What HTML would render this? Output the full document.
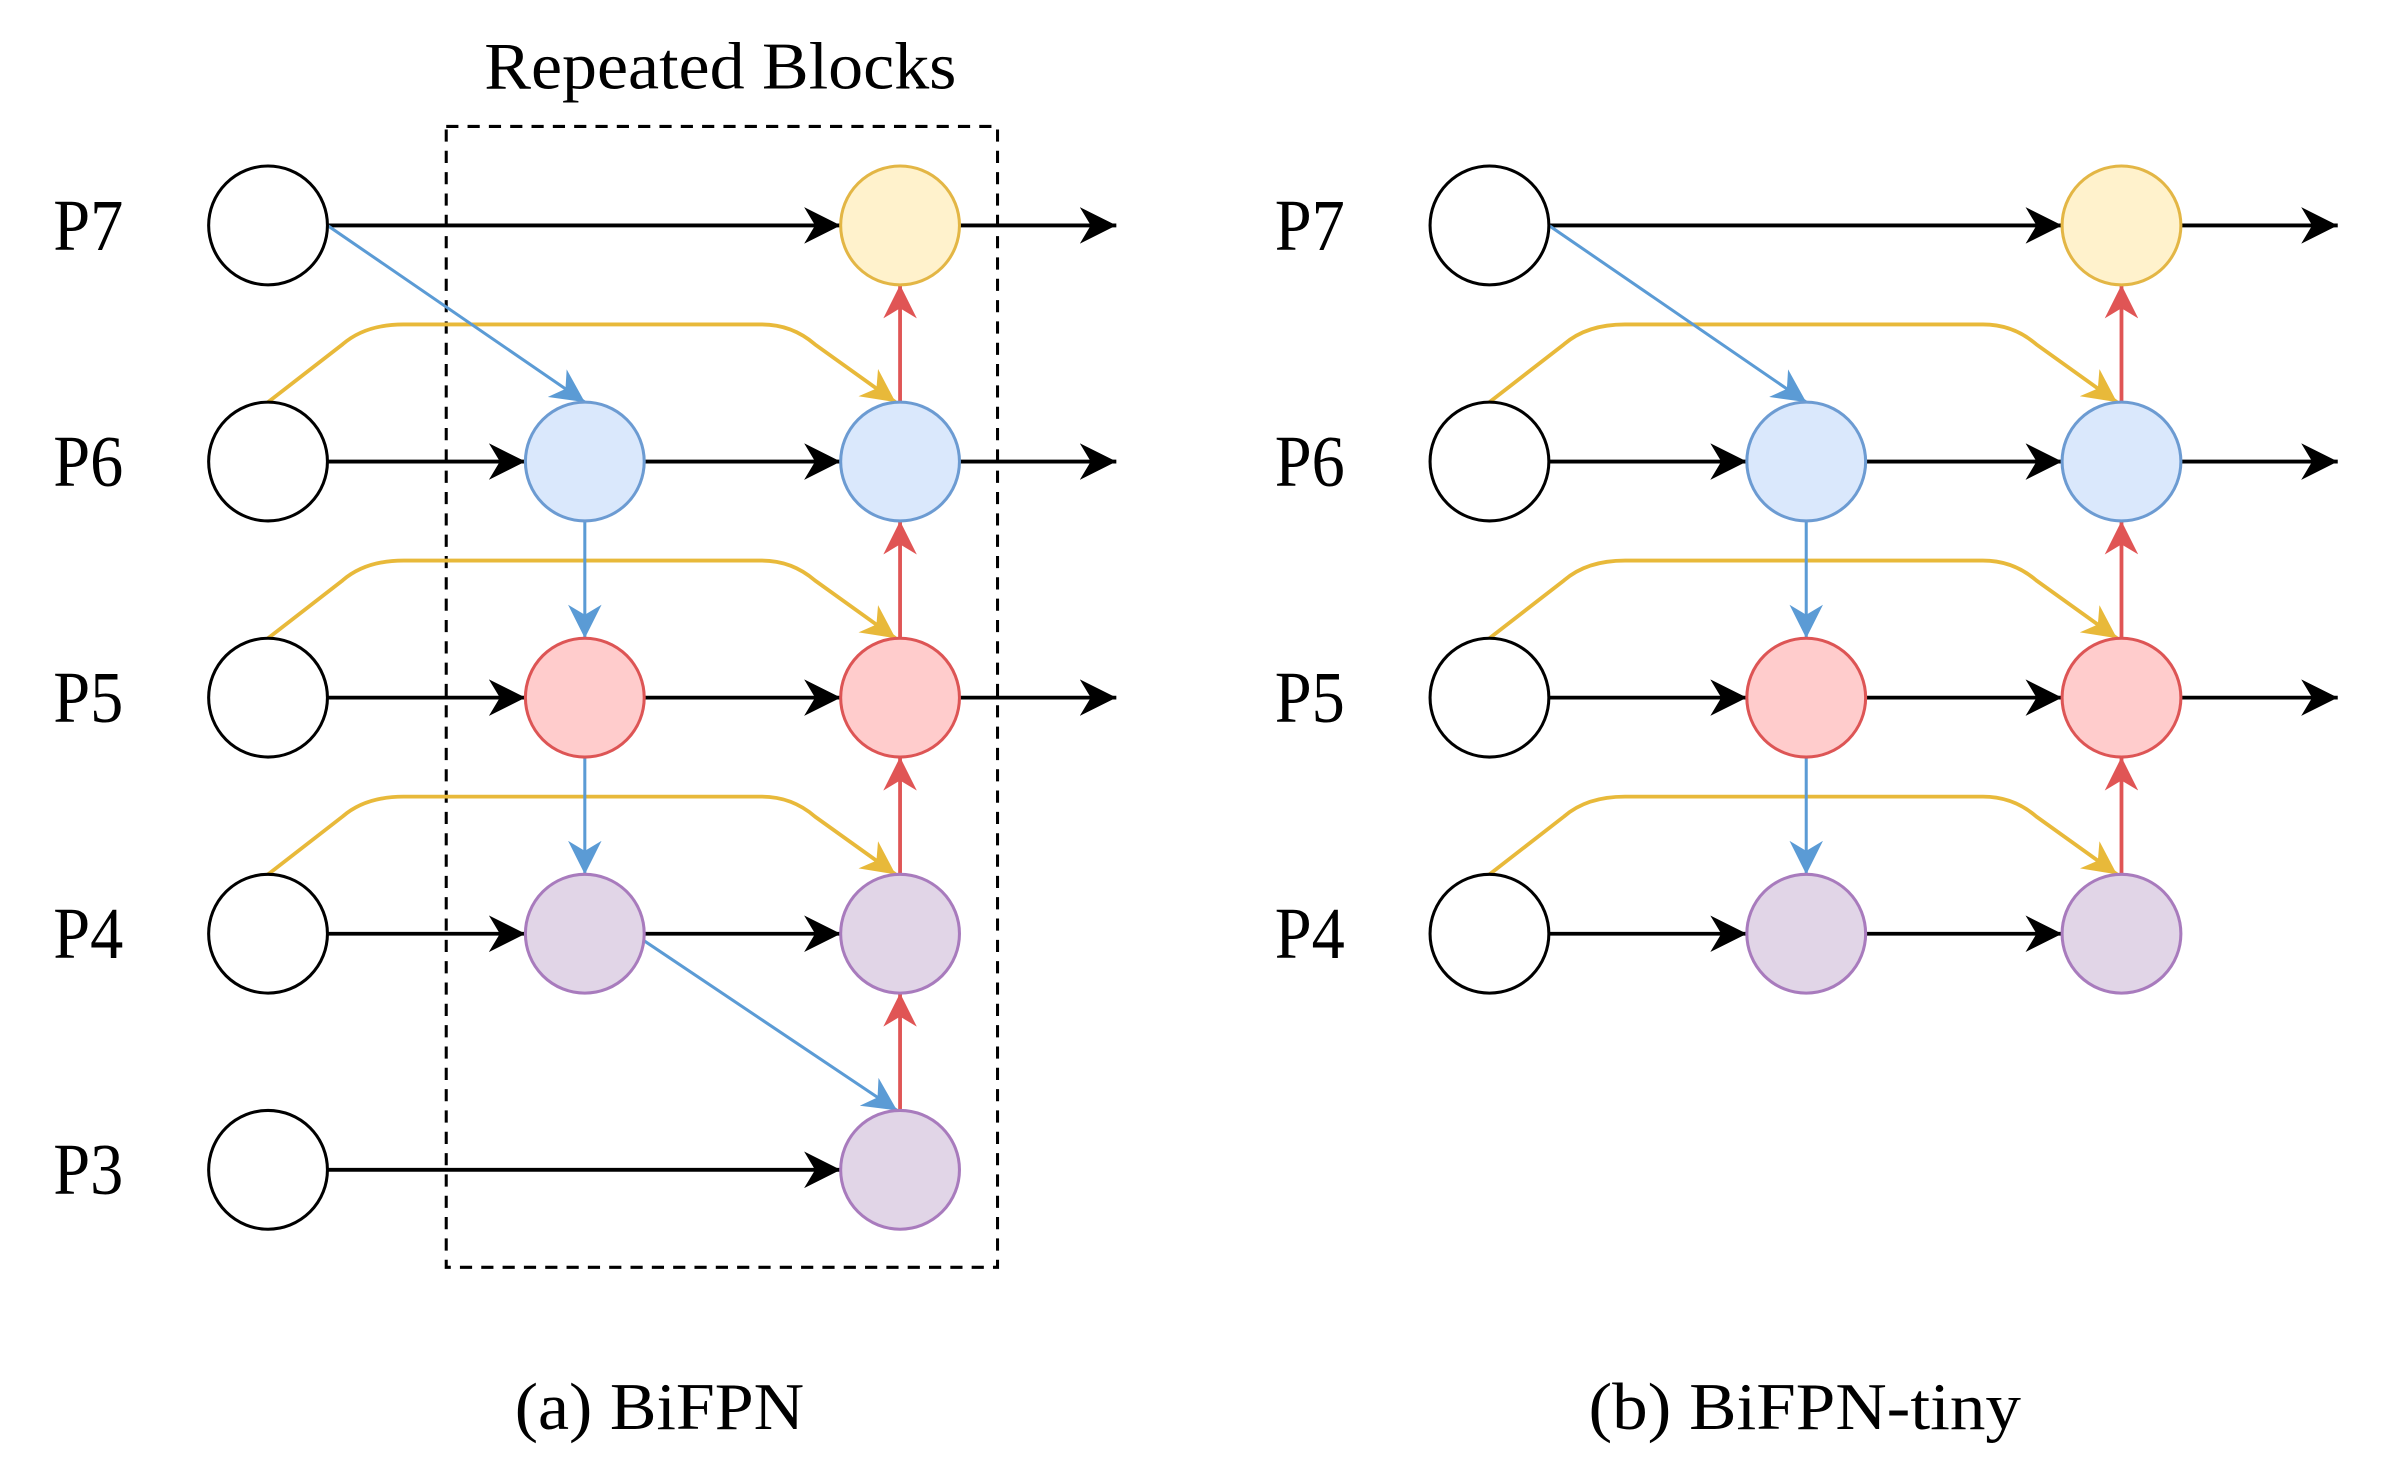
<!DOCTYPE html>
<html><head><meta charset="utf-8"><style>html,body{margin:0;padding:0;background:#fff}svg{display:block}</style></head>
<body>
<svg width="2388" height="1476" viewBox="0 0 1568 969" preserveAspectRatio="none" xmlns="http://www.w3.org/2000/svg" font-family="Liberation Serif, serif">
<defs>
<marker id="kb" viewBox="0 0 10 10" refX="10" refY="5" markerWidth="24" markerHeight="24" markerUnits="userSpaceOnUse" orient="auto"><path d="M0,0 L10,5 L0,10 L3,5 z" fill="#000"/></marker>
<marker id="b" viewBox="0 0 10 10" refX="10" refY="5" markerWidth="22" markerHeight="22" markerUnits="userSpaceOnUse" orient="auto"><path d="M0,0 L10,5 L0,10 L3,5 z" fill="#5b9bd5"/></marker>
<marker id="r" viewBox="0 0 10 10" refX="10" refY="5" markerWidth="22" markerHeight="22" markerUnits="userSpaceOnUse" orient="auto"><path d="M0,0 L10,5 L0,10 L3,5 z" fill="#e05555"/></marker>
<marker id="y" viewBox="0 0 10 10" refX="10" refY="5" markerWidth="22" markerHeight="22" markerUnits="userSpaceOnUse" orient="auto"><path d="M0,0 L10,5 L0,10 L3,5 z" fill="#e8b93a"/></marker>
</defs>
<text x="318" y="58" font-size="44" textLength="310" lengthAdjust="spacingAndGlyphs">Repeated Blocks</text>
<rect x="293" y="83" width="362" height="749" fill="none" stroke="#000" stroke-width="2" stroke-dasharray="8,6"/>

<g id="A">
<g font-size="48">
<text x="35" y="164" textLength="46" lengthAdjust="spacingAndGlyphs">P7</text><text x="35" y="319" textLength="46" lengthAdjust="spacingAndGlyphs">P6</text><text x="35" y="474" textLength="46" lengthAdjust="spacingAndGlyphs">P5</text><text x="35" y="629" textLength="46" lengthAdjust="spacingAndGlyphs">P4</text><text x="35" y="784" textLength="46" lengthAdjust="spacingAndGlyphs">P3</text>
</g>
<g stroke="#000" stroke-width="2.5" fill="none">
<line x1="215" y1="148" x2="552" y2="148" marker-end="url(#kb)"/>
<line x1="630" y1="148" x2="733" y2="148" marker-end="url(#kb)"/>
<line x1="215" y1="303" x2="345" y2="303" marker-end="url(#kb)"/>
<line x1="423" y1="303" x2="552" y2="303" marker-end="url(#kb)"/>
<line x1="630" y1="303" x2="733" y2="303" marker-end="url(#kb)"/>
<line x1="215" y1="458" x2="345" y2="458" marker-end="url(#kb)"/>
<line x1="423" y1="458" x2="552" y2="458" marker-end="url(#kb)"/>
<line x1="630" y1="458" x2="733" y2="458" marker-end="url(#kb)"/>
<line x1="215" y1="613" x2="345" y2="613" marker-end="url(#kb)"/>
<line x1="423" y1="613" x2="552" y2="613" marker-end="url(#kb)"/>
<line x1="215" y1="768" x2="552" y2="768" marker-end="url(#kb)"/>
</g>
<g stroke="#e8b93a" stroke-width="2.5" fill="none">
<path d="M176,264 L225,226 Q240,213 265,213 L500,213 Q520,213 535,226 L588,264" marker-end="url(#y)"/>
<path d="M176,419 L225,381 Q240,368 265,368 L500,368 Q520,368 535,381 L588,419" marker-end="url(#y)"/>
<path d="M176,574 L225,536 Q240,523 265,523 L500,523 Q520,523 535,536 L588,574" marker-end="url(#y)"/>
</g>
<g stroke="#5b9bd5" stroke-width="2" fill="none">
<line x1="215" y1="148" x2="384" y2="264" marker-end="url(#b)"/>
<line x1="384" y1="342" x2="384" y2="419" marker-end="url(#b)"/>
<line x1="384" y1="497" x2="384" y2="574" marker-end="url(#b)"/>
<line x1="422" y1="617" x2="589" y2="729" marker-end="url(#b)"/>
</g>
<g stroke="#e05555" stroke-width="2.5" fill="none">
<line x1="591" y1="729" x2="591" y2="652" marker-end="url(#r)"/>
<line x1="591" y1="574" x2="591" y2="497" marker-end="url(#r)"/>
<line x1="591" y1="419" x2="591" y2="342" marker-end="url(#r)"/>
<line x1="591" y1="264" x2="591" y2="187" marker-end="url(#r)"/>
</g>
<g stroke-width="2">
<circle cx="176" cy="148" r="39" fill="#fff" stroke="#000"/>
<circle cx="176" cy="303" r="39" fill="#fff" stroke="#000"/>
<circle cx="176" cy="458" r="39" fill="#fff" stroke="#000"/>
<circle cx="176" cy="613" r="39" fill="#fff" stroke="#000"/>
<circle cx="176" cy="768" r="39" fill="#fff" stroke="#000"/>
<circle cx="591" cy="148" r="39" fill="#fff2cc" stroke="#e3b645"/>
<circle cx="384" cy="303" r="39" fill="#dae8fc" stroke="#6c9bd2"/>
<circle cx="591" cy="303" r="39" fill="#dae8fc" stroke="#6c9bd2"/>
<circle cx="384" cy="458" r="39" fill="#ffcccc" stroke="#dd5555"/>
<circle cx="591" cy="458" r="39" fill="#ffcccc" stroke="#dd5555"/>
<circle cx="384" cy="613" r="39" fill="#e1d5e7" stroke="#a87bbd"/>
<circle cx="591" cy="613" r="39" fill="#e1d5e7" stroke="#a87bbd"/>
<circle cx="591" cy="768" r="39" fill="#e1d5e7" stroke="#a87bbd"/>
</g>
</g>

<g transform="translate(802,0)">
<g font-size="48">
<text x="35" y="164" textLength="46" lengthAdjust="spacingAndGlyphs">P7</text><text x="35" y="319" textLength="46" lengthAdjust="spacingAndGlyphs">P6</text><text x="35" y="474" textLength="46" lengthAdjust="spacingAndGlyphs">P5</text><text x="35" y="629" textLength="46" lengthAdjust="spacingAndGlyphs">P4</text>
</g>
<g stroke="#000" stroke-width="2.5" fill="none">
<line x1="215" y1="148" x2="552" y2="148" marker-end="url(#kb)"/>
<line x1="630" y1="148" x2="733" y2="148" marker-end="url(#kb)"/>
<line x1="215" y1="303" x2="345" y2="303" marker-end="url(#kb)"/>
<line x1="423" y1="303" x2="552" y2="303" marker-end="url(#kb)"/>
<line x1="630" y1="303" x2="733" y2="303" marker-end="url(#kb)"/>
<line x1="215" y1="458" x2="345" y2="458" marker-end="url(#kb)"/>
<line x1="423" y1="458" x2="552" y2="458" marker-end="url(#kb)"/>
<line x1="630" y1="458" x2="733" y2="458" marker-end="url(#kb)"/>
<line x1="215" y1="613" x2="345" y2="613" marker-end="url(#kb)"/>
<line x1="423" y1="613" x2="552" y2="613" marker-end="url(#kb)"/>
</g>
<g stroke="#e8b93a" stroke-width="2.5" fill="none">
<path d="M176,264 L225,226 Q240,213 265,213 L500,213 Q520,213 535,226 L588,264" marker-end="url(#y)"/>
<path d="M176,419 L225,381 Q240,368 265,368 L500,368 Q520,368 535,381 L588,419" marker-end="url(#y)"/>
<path d="M176,574 L225,536 Q240,523 265,523 L500,523 Q520,523 535,536 L588,574" marker-end="url(#y)"/>
</g>
<g stroke="#5b9bd5" stroke-width="2" fill="none">
<line x1="215" y1="148" x2="384" y2="264" marker-end="url(#b)"/>
<line x1="384" y1="342" x2="384" y2="419" marker-end="url(#b)"/>
<line x1="384" y1="497" x2="384" y2="574" marker-end="url(#b)"/>
</g>
<g stroke="#e05555" stroke-width="2.5" fill="none">
<line x1="591" y1="574" x2="591" y2="497" marker-end="url(#r)"/>
<line x1="591" y1="419" x2="591" y2="342" marker-end="url(#r)"/>
<line x1="591" y1="264" x2="591" y2="187" marker-end="url(#r)"/>
</g>
<g stroke-width="2">
<circle cx="176" cy="148" r="39" fill="#fff" stroke="#000"/>
<circle cx="176" cy="303" r="39" fill="#fff" stroke="#000"/>
<circle cx="176" cy="458" r="39" fill="#fff" stroke="#000"/>
<circle cx="176" cy="613" r="39" fill="#fff" stroke="#000"/>
<circle cx="591" cy="148" r="39" fill="#fff2cc" stroke="#e3b645"/>
<circle cx="384" cy="303" r="39" fill="#dae8fc" stroke="#6c9bd2"/>
<circle cx="591" cy="303" r="39" fill="#dae8fc" stroke="#6c9bd2"/>
<circle cx="384" cy="458" r="39" fill="#ffcccc" stroke="#dd5555"/>
<circle cx="591" cy="458" r="39" fill="#ffcccc" stroke="#dd5555"/>
<circle cx="384" cy="613" r="39" fill="#e1d5e7" stroke="#a87bbd"/>
<circle cx="591" cy="613" r="39" fill="#e1d5e7" stroke="#a87bbd"/>
</g>
</g>

<text x="338" y="938" font-size="44" textLength="190" lengthAdjust="spacingAndGlyphs">(a) BiFPN</text>
<text x="1043" y="938" font-size="44" textLength="284" lengthAdjust="spacingAndGlyphs">(b) BiFPN-tiny</text>
</svg>
</body></html>
